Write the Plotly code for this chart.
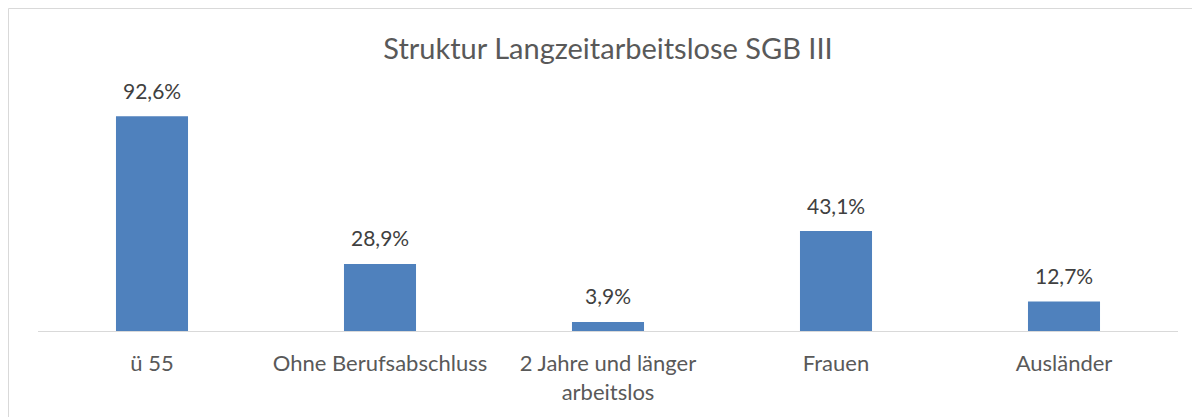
import plotly.graph_objects as go

categories = ["ü 55", "Ohne Berufsabschluss", "2 Jahre und länger<br>arbeitslos", "Frauen", "Ausländer"]
values = [92.6, 28.9, 3.9, 43.1, 12.7]
title_text = "Struktur Langzeitarbeitslose SGB III"

FONT = "Lato"
OFF = 8  # browser default body margin
fig = go.Figure()
fig.add_trace(go.Bar(
    x=categories, y=values,
    marker=dict(color="#4F81BD", line=dict(width=0)),
    width=0.316,
    hoverinfo="skip",
))
for c, v in zip(categories, values):
    fig.add_annotation(
        x=c, y=v, text=f"{v:.1f}%".replace(".", ","),
        showarrow=False, yanchor="middle", yshift=26,
        font=dict(family=FONT, size=21, color="#404040"),
    )

W, H = 1200, 417
L, R, T, B = 38 - OFF, 1178 - OFF, 99 - OFF, 331 - OFF

def px(xp):
    return (xp - L) / (R - L)
def py(yp):
    return (B - yp) / (B - T)

fig.add_shape(type="rect", xref="paper", yref="paper",
              x0=px(0.5), x1=px(1230), y0=py(440), y1=py(0.5),
              line=dict(color="#D9D9D9", width=1), fillcolor="rgba(0,0,0,0)", layer="below")

fig.update_layout(
    width=W, height=H,
    margin=dict(l=L, r=W - R, t=T, b=H - B, pad=0),
    paper_bgcolor="white", plot_bgcolor="white",
    separators=",.",
    showlegend=False,
    bargap=0.684,
    title=dict(text=title_text, x=0.5, xanchor="center", y=1 - (49 - OFF) / H, yanchor="middle",
               font=dict(family=FONT, size=29, color="#595959")),
    xaxis=dict(showgrid=False, showline=True, linecolor="#D9D9D9", linewidth=1,
               ticks="", tickfont=dict(family=FONT, size=22, color="#595959"),
               ticklabelstandoff=13, fixedrange=True),
    yaxis=dict(range=[0, 100], visible=False, showgrid=False, zeroline=False, fixedrange=True),
)

fig.write_html("out.html")
